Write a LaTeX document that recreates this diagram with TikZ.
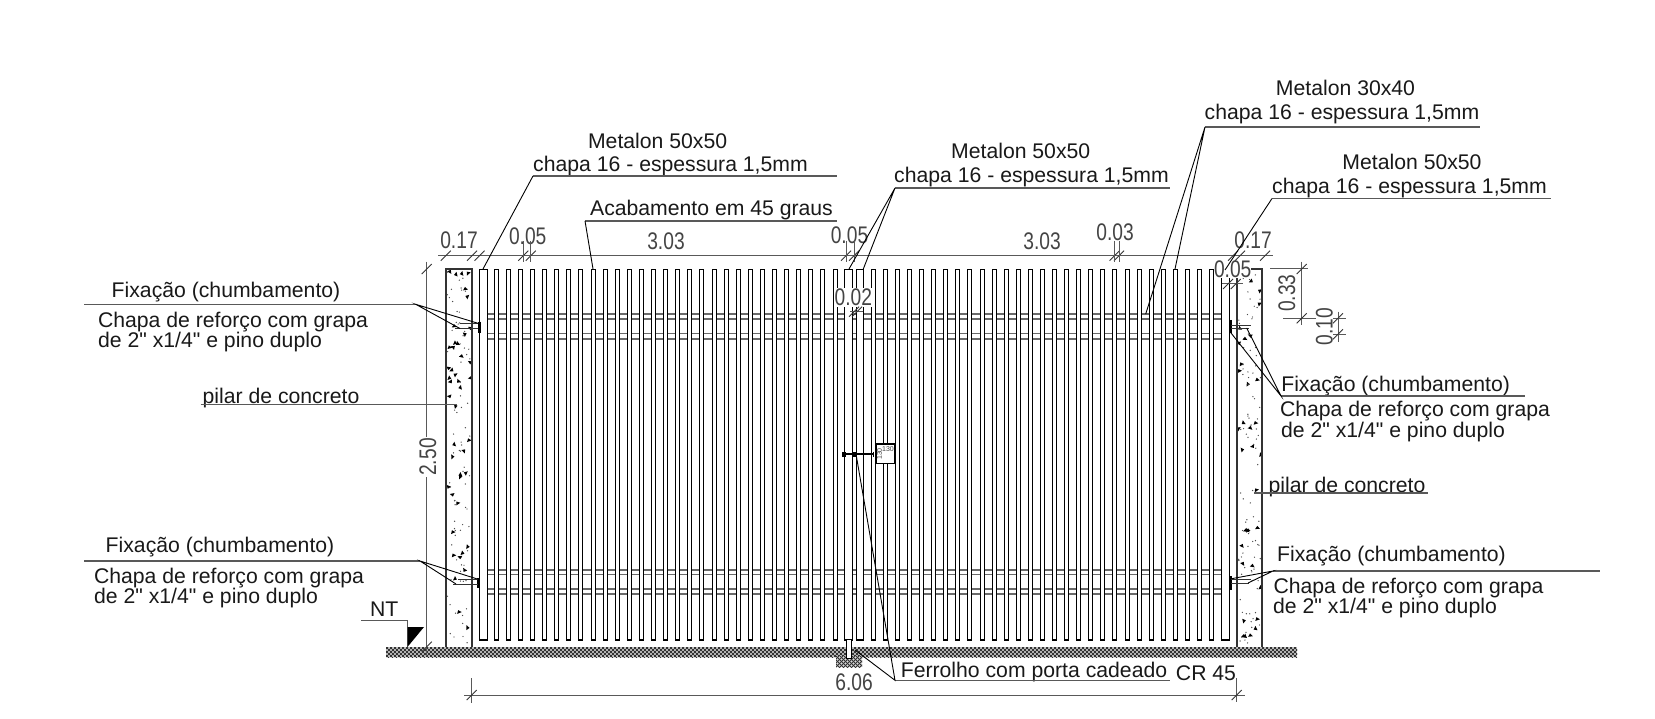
\documentclass[tikz,border=0pt]{standalone}
\usepackage{graphicx}
\usepackage{fontspec}
\setmainfont{Liberation Sans}[Ligatures=TeXOff]
\definecolor{dimc}{HTML}{444444}
\definecolor{barc}{HTML}{6A6A6A}
\tikzset{
 x=1pt,y=-1pt,
 lbl/.style={inner sep=0pt,text=black!90,font=\fontsize{21.2}{21.2}\selectfont,text height=15pt,text depth=0pt},
 dimt/.style={inner sep=1pt,text=dimc,font=\fontsize{24}{24}\selectfont,text height=17pt,text depth=0pt},
 wdimt/.style={dimt,fill=white},
 leader/.style={line width=.9pt,black},
 under/.style={line width=1.1pt,black!65},
 dimline/.style={line width=1pt,black!65},
 ticks/.style={line width=.9pt,black!80},
 slat/.style={line width=1.6pt,black,fill=white},
 bar/.style={line width=1.2pt,barc},
 pillar/.style={line width=1.2pt,black!80},
 plate/.style={line width=3pt,black},
 grapa/.style={line width=.8pt,black!80},
}
\newcommand{\tk}[2]{\draw[ticks,shift={(#1,#2)}] (-5,5)--(5,-5);}
\newcommand{\dimtext}[2]{\scalebox{#1}[1]{#2}}
\newcommand{\hatchzone}[4]{%
 \begin{scope}
 \clip (#1,#2) rectangle (#3,#4);
 \fill[black!15] (#1,#2) rectangle (#3,#4);
 \pgfmathsetmacro{\hs}{#1-20}
 \pgfmathsetmacro{\hn}{#1-16}
 \foreach \v in {\hs,\hn,...,#3}{
  \draw[line width=1pt,black!80] (\v,#4) -- ++(12,-12);
  \draw[line width=1pt,black!80] (\v,#2) -- ++(12,12);
 }
 \end{scope}}
\newcommand{\specks}[3]{%
 \begin{scope}
 \pgfmathsetseed{#3}
 \foreach \i in {1,...,125}{
  \pgfmathsetmacro{\xx}{#1+1.5+(#2-#1-3)*rnd}
  \pgfmathsetmacro{\yy}{271+372*rnd}
  \pgfmathsetmacro{\kk}{rnd}
  \pgfmathsetmacro{\aa}{360*rnd}
  \ifdim\kk pt<.3pt
   \fill[black,shift={(\xx,\yy)},rotate=\aa] (-2.2,1.5)--(2.4,0)--(-1,-2.2)--cycle;
  \else
   \fill[black!70] (\xx,\yy) circle (.7);
  \fi
 }
 \end{scope}}
\begin{document}
\begin{tikzpicture}
\useasboundingbox (0,0) rectangle (1655,719);
\fill[white] (0,0) rectangle (1655,719);
% ground
\hatchzone{386}{647}{1297}{657}
\hatchzone{836}{656}{862}{667}
% pillars
\specks{446}{472}{11}
\specks{1237}{1262}{29}
\draw[pillar] (446,647)--(446,269)--(472,269)--(472,647);
\draw[pillar] (1237,647)--(1237,269)--(1262,269)--(1262,647);
% horizontal bars
\foreach \ya/\yb in {314/319,333.5/339,570/574.5,589/594}{
 \draw[bar] (487,\ya) rectangle (1222,\yb);
}
% slats
\draw[slat] (479.5,269.5) rectangle (487.5,640);
\foreach \i in {0,...,28}{
 \pgfmathsetmacro{\xa}{round(493.7+12.1*\i)+.5}
 \draw[slat] (\xa,269.5) rectangle ++(4,370.5);
}
\draw[slat] (844.5,269.5) rectangle (852.5,640);
\draw[slat] (856.5,269.5) rectangle (863.5,640);
\foreach \i in {0,...,28}{
 \pgfmathsetmacro{\xa}{round(870.7+12.09*\i)+.5}
 \draw[slat] (\xa,269.5) rectangle ++(4,370.5);
}
\draw[slat] (1221.5,269.5) rectangle (1229.5,640);
% latch
\draw[line width=1.1pt,black,fill=white] (876,444) rectangle (895,463.3);
\node[inner sep=0pt,font=\fontsize{7}{7}\selectfont,text=dimc] (lockh) at (888,449) {130};
\node[inner sep=0pt,rotate=90,font=\fontsize{7}{7}\selectfont,text=dimc] (lockv) at (879.5,454) {130};
\draw[line width=1.8pt,black] (843.3,454.3) -- (873.3,454.3);
\fill[black] (841.5,451.5) rectangle (845.5,457);
\fill[black] (852.5,451.5) rectangle (856.5,457);
\draw[line width=1pt,black] (873.3,451.5)--(873.3,457);
% floor pin
\draw[line width=1pt,black,fill=white] (846.7,639) rectangle (851.7,658);
% plates
\draw[plate] (479,321.7)--(479,333.3);
\draw[plate] (478.7,578)--(478.7,588);
\draw[plate] (1230,320)--(1230,333);
\draw[plate] (1230,576)--(1230,590);
\draw[grapa] (460,323.3)--(478,323.3) (455,328.5)--(478,328.5);
\draw[grapa] (458,579.5)--(478,579.5) (453,584)--(478,584);
\draw[grapa] (1231,325)--(1251,325) (1231,328.5)--(1249,328.5);
\draw[grapa] (1231,579)--(1251,579) (1231,583)--(1249,583);
% NT mark
\node[lbl] (nt) at (384.3,609.3) {NT};
\coordinate (nta) at (361,620.7);
\coordinate (ntb) at (407.7,620.7);
\coordinate (ntc) at (407.7,646.7);
\draw[under] (nta)--(ntb)--(ntc);
\fill[black] (407.7,627)--(424,627)--(407.7,646.7)--cycle;
% dimensions
\draw[dimline] (438,255.7)--(1273,255.7);
\node[dimt] (d17a) at (459,240) {\dimtext{.8}{0.17}};
\node[dimt] (d05a) at (527.7,236) {\dimtext{.8}{0.05}};
\node[dimt] (d303a) at (666,240.6) {\dimtext{.8}{3.03}};
\node[dimt] (d05b) at (849.5,235) {\dimtext{.8}{0.05}};
\node[dimt] (d303b) at (1042,240.6) {\dimtext{.8}{3.03}};
\node[dimt] (d03) at (1115,232) {\dimtext{.8}{0.03}};
\node[dimt] (d17b) at (1253,240) {\dimtext{.8}{0.17}};
\foreach \x in {445.7,472,479.5,523.3,530.7,846,854,1114.6,1119,1233,1240,1265}{\tk{\x}{255.7}}
\foreach \x in {523.3,530.7,846,854,1114.6,1119}{\draw[dimline] (\x,241)--(\x,262);}
\node[wdimt] (d02) at (853.3,297.3) {\dimtext{.8}{0.02}};
\draw[dimline] (850,311.7)--(863,311.7);
\tk{854}{311.7}
\tk{857}{311.7}
\node[wdimt,inner sep=0pt] (d05c) at (1232.7,269.3) {\dimtext{.8}{0.05}};
\draw[dimline] (1221.7,284)--(1243,284);
\tk{1228}{284}\tk{1235.7}{284}
% vertical 0.33 / 0.10
\draw[dimline] (1301.7,261.7)--(1301.7,325);
\draw[dimline] (1270,269)--(1308,269);
\draw[dimline] (1283,318.3)--(1346,318.3);
\draw[dimline] (1338,311.7)--(1338,341.7);
\draw[dimline] (1326,334.3)--(1346,334.3);
\tk{1301.7}{269}\tk{1301.7}{318.3}\tk{1338}{318.3}\tk{1338}{334.3}
\node[dimt,rotate=90] (d33) at (1286.7,293.3) {\dimtext{.8}{0.33}};
\node[wdimt,inner sep=0pt,rotate=90] (d10) at (1324,326.7) {\dimtext{.8}{0.10}};
% 2.50
\draw[dimline] (426.7,261.7)--(426.7,656);
\tk{426.7}{269}\tk{426.7}{646.7}
\node[wdimt,rotate=90] (d250) at (427.5,457) {\dimtext{.8}{2.50}};
% 6.06
\draw[dimline] (464.3,695)--(1245,695);
\draw[dimline] (471.7,678)--(471.7,702.7);
\draw[dimline] (1236.7,678)--(1236.7,702);
\tk{471.7}{695}\tk{1236.7}{695}
\node[dimt] (d606) at (854,681.7) {\dimtext{.8}{6.06}};
% label: Metalon 50x50 left
\node[lbl] (m1a) at (657.6,141.4) {Metalon 50x50};
\node[lbl] (m1b) at (670.5,163.6) {chapa 16 - espessura 1,5mm};
\coordinate (m1s) at (533,176);\coordinate (m1e) at (837,176);\coordinate (m1t) at (483,269);
\draw[under] (m1s)--(m1e);\draw[leader] (m1s)--(m1t);
% Acabamento
\node[lbl] (ac) at (711.5,208) {Acabamento em 45 graus};
\coordinate (acs) at (585,221);\coordinate (ace) at (837,221);\coordinate (act) at (593,269);
\draw[under] (acs)--(ace);\draw[leader] (acs)--(act);
% Metalon centre
\node[lbl] (m2a) at (1020.7,151) {Metalon 50x50};
\node[lbl] (m2b) at (1031.5,175.2) {chapa 16 - espessura 1,5mm};
\coordinate (m2s) at (895,188);\coordinate (m2e) at (1170,188);\coordinate (m2t) at (849,269);\coordinate (m2u) at (863.3,269);
\draw[under] (m2s)--(m2e);\draw[leader] (m2t)--(m2s)--(m2u);
% Metalon 30x40
\node[lbl] (m3a) at (1345.5,88.2) {Metalon 30x40};
\node[lbl] (m3b) at (1342,112) {chapa 16 - espessura 1,5mm};
\coordinate (m3s) at (1205,127);\coordinate (m3e) at (1480,127);\coordinate (m3t) at (1145.7,314);\coordinate (m3u) at (1175,269);
\draw[under] (m3s)--(m3e);\draw[leader] (m3t)--(m3s)--(m3u);
% Metalon right
\node[lbl] (m4a) at (1412,162.5) {Metalon 50x50};
\node[lbl] (m4b) at (1409.5,186) {chapa 16 - espessura 1,5mm};
\coordinate (m4s) at (1272,198.5);\coordinate (m4e) at (1550.5,198.5);\coordinate (m4t) at (1225,270);
\draw[under] (m4s)--(m4e);\draw[leader] (m4s)--(m4t);
% Fixacao top left
\node[lbl] (f1) at (226,290) {Fixação (chumbamento)};
\node[lbl] (f1b) at (233,320) {Chapa de reforço com grapa};
\node[lbl] (f1c) at (210,340) {de 2" x1/4" e pino duplo};
\coordinate (f1s) at (84.4,304.3);\coordinate (f1e) at (415.7,304.3);\coordinate (f1t) at (478,323.3);\coordinate (f1u) at (460,328.5);
\draw[under] (f1s)--(f1e);\draw[leader] (f1t)--(f1e)--(f1u);
% pilar left
\node[lbl] (p1) at (281,396) {pilar de concreto};
\coordinate (p1s) at (200.5,404.8);\coordinate (p1e) at (457,404.8);
\draw[under] (p1s)--(p1e);
% Fixacao bottom left
\node[lbl] (f2) at (220,544.6) {Fixação (chumbamento)};
\node[lbl] (f2b) at (229,576) {Chapa de reforço com grapa};
\node[lbl] (f2c) at (206,596) {de 2" x1/4" e pino duplo};
\coordinate (f2s) at (84.4,561);\coordinate (f2e) at (420,561);\coordinate (f2t) at (478.3,579.3);\coordinate (f2u) at (456,584);
\draw[under] (f2s)--(f2e);\draw[leader] (f2t)--(f2e)--(f2u);
% Fixacao top right
\node[lbl] (f3) at (1395.6,384) {Fixação (chumbamento)};
\node[lbl] (f3b) at (1415,408.5) {Chapa de reforço com grapa};
\node[lbl] (f3c) at (1393,429.6) {de 2" x1/4" e pino duplo};
\coordinate (f3s) at (1281,396);\coordinate (f3e) at (1525,396);\coordinate (f3t) at (1230,331.7);\coordinate (f3u) at (1246.7,328);
\draw[under] (f3s)--(f3e);\draw[leader] (f3t)--(f3s)--(f3u);
% pilar right
\node[lbl] (p2) at (1347,484.5) {pilar de concreto};
\coordinate (p2s) at (1254,493);\coordinate (p2e) at (1428,493);
\draw[under] (p2s)--(p2e);
% Fixacao bottom right
\node[lbl] (f4) at (1391.5,554) {Fixação (chumbamento)};
\node[lbl] (f4b) at (1408.5,586) {Chapa de reforço com grapa};
\node[lbl] (f4c) at (1385,606) {de 2" x1/4" e pino duplo};
\coordinate (f4s) at (1273,571);\coordinate (f4e) at (1600,571);\coordinate (f4t) at (1230,579);\coordinate (f4u) at (1248,583);
\draw[under] (f4s)--(f4e);\draw[leader] (f4t)--(f4s)--(f4u);
% Ferrolho
\node[lbl] (fe) at (1034,670) {Ferrolho com porta cadeado};
\node[lbl] (cr) at (1206,672.7) {CR 45};
\coordinate (fes) at (895,680.3);\coordinate (fee) at (1170,680.3);\coordinate (fet) at (856,454);\coordinate (feu) at (855,650);
\draw[under] (fes)--(fee);\draw[leader] (fet)--(fes)--(feu);
\end{tikzpicture}
\end{document}
